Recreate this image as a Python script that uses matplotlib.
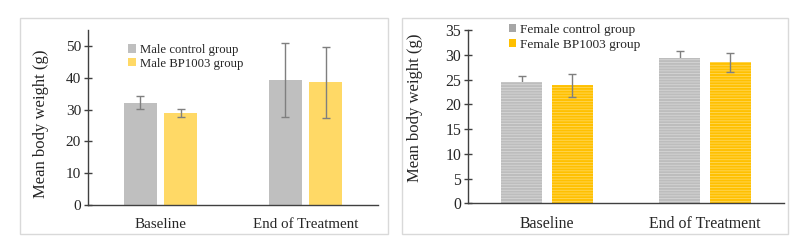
import matplotlib
matplotlib.use("Agg")
import matplotlib.pyplot as plt
import numpy as np
from matplotlib.patches import Rectangle, Patch

plt.rcParams['font.family'] = ['Liberation Serif', 'DejaVu Serif']
plt.rcParams['hatch.linewidth'] = 0.6

categories = ["Baseline", "End of Treatment"]
male_control = [32.2, 39.3]
male_control_err = [2.1, 11.7]
male_bp = [29.0, 38.5]
male_bp_err = [1.3, 11.2]
female_control = [24.5, 29.3]
female_control_err = [1.3, 1.4]
female_bp = [23.8, 28.5]
female_bp_err = [2.3, 1.9]

W, H = 806, 245
fig = plt.figure(figsize=(W / 100, H / 100), dpi=100)

# panel frames
for (x0, x1) in [(20, 388), (402, 788)]:
    fig.patches.append(Rectangle((x0 / W, 1 - 234 / H), (x1 - x0) / W, (234 - 18) / H,
                                 transform=fig.transFigure, fill=False,
                                 edgecolor='#D9D9D9', linewidth=1.0))

axc = '#404040'
errc = '#7F7F7F'


def style(ax, ymax, ystep, tick_fs, lab_fs, ylab_fs, lx, ly):
    ax.set_xlim(-0.5, 1.5)
    ax.set_ylim(0, ymax)
    ax.set_yticks(np.arange(0, ymax + 0.01, ystep))
    for s in ['top', 'right']:
        ax.spines[s].set_visible(False)
    for s in ['left', 'bottom']:
        ax.spines[s].set_color(axc)
        ax.spines[s].set_linewidth(1.0)
    ax.tick_params(axis='y', direction='inout', length=6, width=1.0, color=axc,
                   labelsize=tick_fs, labelcolor='#262626', pad=2)
    ax.tick_params(axis='x', length=0, labelsize=lab_fs, labelcolor='#262626', pad=9)
    ax.set_xticks(range(len(categories)))
    ax.set_xticklabels(categories)
    ax.set_ylabel("Mean body weight (g)", fontsize=ylab_fs, color='#262626')
    ax.yaxis.set_label_coords(lx, ly)


# Male panel
ax1 = fig.add_axes([88 / W, 1 - 205 / H, (378 - 88) / W, (205 - 30) / H])
x = np.arange(len(categories))
bw, gap = 0.23, 0.048
off = bw / 2 + gap / 2
ax1.bar(x - off, male_control, bw, color='#BFBFBF', label='Male control group', zorder=2)
ax1.bar(x + off, male_bp, bw, color='#FFD966', label='Male BP1003 group', zorder=2)
ax1.errorbar(x - off, male_control, yerr=male_control_err, fmt='none', ecolor=errc,
             elinewidth=1.0, capsize=3, capthick=1.0, zorder=3)
ax1.errorbar(x + off, male_bp, yerr=male_bp_err, fmt='none', ecolor=errc,
             elinewidth=1.0, capsize=3, capthick=1.0, zorder=3)
style(ax1, 55, 10, 11, 10.8, 12, -0.134, 0.466)
ax1.legend(loc='upper left', bbox_to_anchor=(128 / W, 1 - 44 / H), bbox_transform=fig.transFigure,
           frameon=False, fontsize=9.2, handlelength=0.65, handleheight=0.65, handletextpad=0.25,
           labelspacing=0.12, borderaxespad=0, borderpad=0, labelcolor='#262626')

# Female panel
ax2 = fig.add_axes([468 / W, 1 - 203.3 / H, (784 - 468) / W, (203.3 - 30) / H])
bw2, gap2 = 0.26, 0.057
off2 = bw2 / 2 + gap2 / 2
ax2.errorbar(x - off2, female_control, yerr=female_control_err, fmt='none', ecolor=errc,
             elinewidth=1.0, capsize=3, capthick=1.0, zorder=1)
ax2.bar(x - off2, female_control, bw2, color='#BDBDBD', edgecolor='#D6D6D6', linewidth=0,
        hatch='------', label='Female control group', zorder=2)
ax2.bar(x + off2, female_bp, bw2, color='#FFC000', edgecolor='#FFD85A', linewidth=0,
        hatch='------', label='Female BP1003 group', zorder=2)
ax2.errorbar(x + off2, female_bp, yerr=female_bp_err, fmt='none', ecolor=errc,
             elinewidth=1.0, capsize=3, capthick=1.0, zorder=3)
style(ax2, 35, 5, 11.3, 11.4, 12, -0.142, 0.553)
h2 = [Patch(facecolor='#A6A6A6'), Patch(facecolor='#FFC000')]
ax2.legend(h2, ['Female control group', 'Female BP1003 group'], loc='upper left',
           bbox_to_anchor=(509 / W, 1 - 24 / H), bbox_transform=fig.transFigure,
           frameon=False, fontsize=9.6, handlelength=0.55, handleheight=0.55, handletextpad=0.25,
           labelspacing=0.22, borderaxespad=0, borderpad=0, labelcolor='#262626')

fig.savefig("out.png", dpi=100)
